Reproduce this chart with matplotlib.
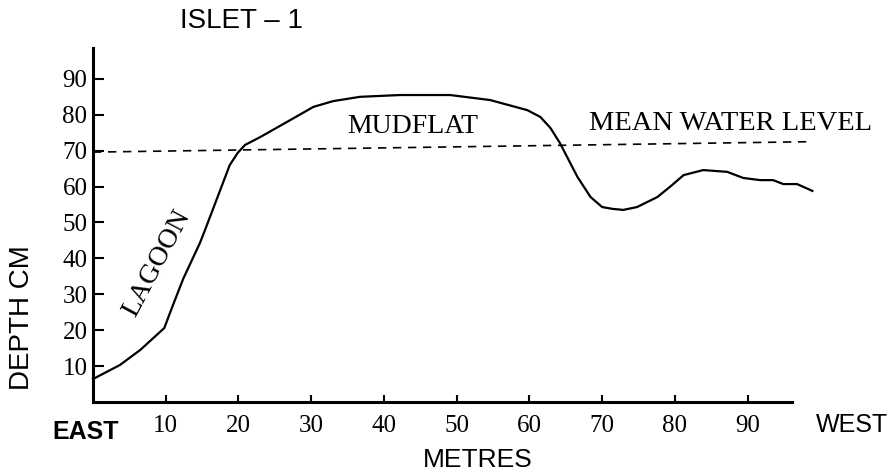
import matplotlib
matplotlib.use("Agg")
import matplotlib.pyplot as plt

# Profile across Islet-1 (distance from east end, depth in cm)
distance = [0, 3.7, 6.5, 9.8, 10.9, 12.4, 14.7, 15.4, 18.8, 19.9, 20.9, 23.0,
            27.1, 30.3, 33.0, 36.7, 42.2, 49.1, 54.6, 59.7, 61.5, 62.9, 64.2,
            66.6, 68.4, 70.0, 71.4, 72.9, 74.8, 77.6, 79.6, 81.2, 83.9, 87.2,
            89.4, 91.7, 93.5, 94.9, 96.8, 98.9]
depth = [6.4, 10.3, 14.5, 20.6, 26.5, 34.3, 44.3, 47.9, 66.0, 69.4, 71.6, 73.8,
         78.5, 82.2, 83.8, 85.0, 85.5, 85.5, 84.1, 81.3, 79.4, 76.3, 72.1,
         62.7, 57.1, 54.3, 53.8, 53.5, 54.3, 57.1, 60.4, 63.2, 64.6, 64.1,
         62.4, 61.8, 61.8, 60.7, 60.7, 58.8]

# Mean water level (dashed line)
mwl_x = [0, 98.5]
mwl_y = [69.6, 72.5]

xticks = [10, 20, 30, 40, 50, 60, 70, 80, 90]
yticks = [10, 20, 30, 40, 50, 60, 70, 80, 90]

serif = "Liberation Serif"
sans = "Liberation Sans"

fig = plt.figure(figsize=(8.96, 4.74), dpi=100)
ax = fig.add_axes([93 / 896, 72 / 474, 699 / 896, 354 / 474])

ax.plot(distance, depth, color="black", lw=1.6, clip_on=False)
ax.plot(mwl_x, mwl_y, color="black", lw=1.2, ls=(0, (5, 4)), clip_on=False)

ax.set_xlim(0, 96.1)
ax.set_ylim(0, 98.6)
ax.set_xticks(xticks)
ax.set_yticks(yticks)
ax.set_xticklabels([str(t) for t in xticks], fontfamily=serif, fontsize=18)
ax.set_yticklabels([str(t) for t in yticks], fontfamily=serif, fontsize=18)
ax.tick_params(axis="x", direction="in", length=5, width=1.5, pad=9)
ax.tick_params(axis="y", direction="in", length=8, width=1.5, pad=4)

for side in ["top", "right"]:
    ax.spines[side].set_visible(False)
for side in ["left", "bottom"]:
    ax.spines[side].set_linewidth(2.2)

ax.text(44, 76.6, "MUDFLAT", fontfamily=serif, fontsize=20,
        ha="center", va="center")
ax.text(87.6, 77.5, "MEAN WATER LEVEL", fontfamily=serif, fontsize=20.5,
        ha="center", va="center", clip_on=False)
ax.text(8.8, 38.5, "LAGOON", fontfamily=serif, fontsize=20, rotation=62,
        ha="center", va="center")

fig.text(0.27, 0.956, "ISLET \u2013 1", fontfamily=sans, fontsize=20,
         ha="center", va="center")
fig.text(0.096, 0.089, "EAST", fontfamily=sans, fontsize=18,
         fontweight="bold", ha="center", va="center")
fig.text(0.951, 0.103, "WEST", fontfamily=sans, fontsize=18,
         ha="center", va="center")
fig.text(0.533, 0.030, "METRES", fontfamily=sans, fontsize=19,
         ha="center", va="center")
fig.text(0.0245, 0.329, "DEPTH CM", fontfamily=sans, fontsize=20,
         rotation=90, ha="center", va="center")

fig.savefig("out.png", dpi=100)
